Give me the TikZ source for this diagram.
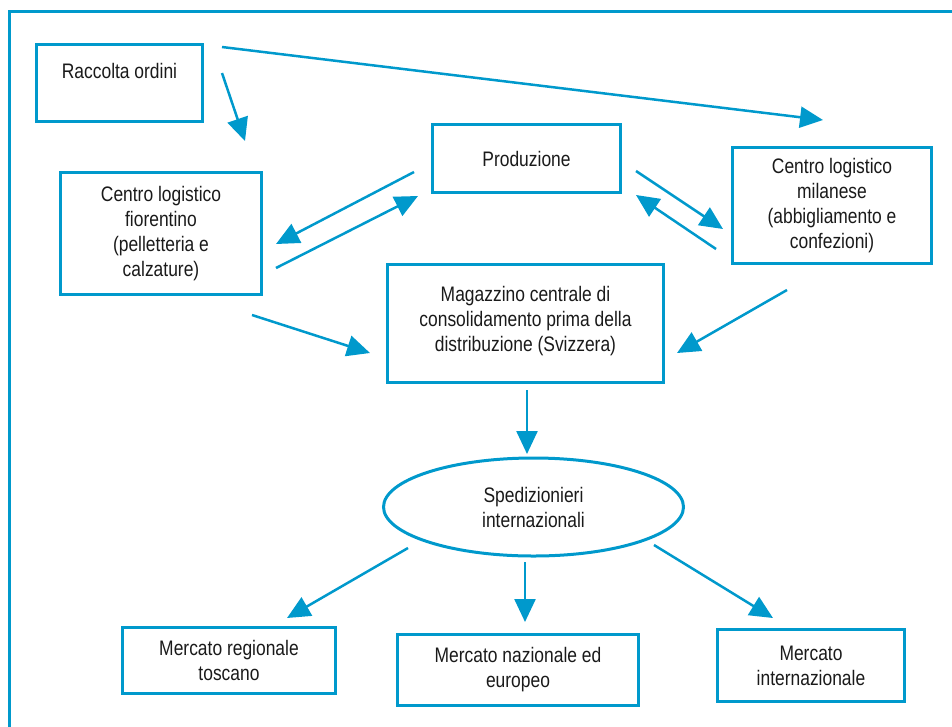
\documentclass[tikz,border=0pt]{standalone}
\usepackage{fontspec}
\setmainfont{Liberation Sans}[FakeStretch=0.83]
\usetikzlibrary{arrows.meta, shapes.geometric}
\definecolor{flowblue}{HTML}{0099CC}
\definecolor{textgray}{HTML}{1A1A1A}

\begin{document}
\begin{tikzpicture}[x=1pt, y=-1pt,
  box/.style={rectangle, draw=flowblue, line width=3pt, align=center,
              font=\fontsize{21}{25}\selectfont, text=textgray, inner sep=0pt},
  arrow/.style={-{Triangle[length=23pt, width=21pt]}, line width=2.5pt, color=flowblue},
]
\useasboundingbox (0,0) rectangle (952,726);
% Frame
\draw[flowblue, line width=3pt] (9,730) -- (9,11) -- (956,11);

% Boxes
\node[box, minimum width=166, minimum height=77] (raccolta) at (119.5,83) {Raccolta ordini\\ \mbox{}};
\node[box, minimum width=201, minimum height=122] (fiorentino) at (161,233.5)
  {Centro logistico\\fiorentino\\(pelletteria e\\calzature)};
\node[box, minimum width=188, minimum height=68] (produzione) at (526.5,158.5) {Produzione};
\node[box, minimum width=199, minimum height=116] (milanese) at (832,205.5)
  {Centro logistico\\milanese\\(abbigliamento e\\confezioni)};
\node[box, minimum width=276, minimum height=118] (magazzino) at (525.5,323.5)
  {Magazzino centrale di\\consolidamento prima della\\distribuzione (Svizzera)\\[-15pt]\mbox{}};
\node[box, ellipse, minimum width=300, minimum height=98] (spedizionieri) at (533.5,507)
  {Spedizionieri\\internazionali};
\node[box, minimum width=213, minimum height=66] (regionale) at (229,660.5)
  {Mercato regionale\\toscano};
\node[box, minimum width=241, minimum height=71] (nazionale) at (518,670)
  {Mercato nazionale ed\\europeo};
\node[box, minimum width=187, minimum height=72] (internazionale) at (811,665.5)
  {Mercato\\internazionale};

% Arrow ends
\coordinate (rac-a) at (222,73);   \coordinate (fio-a) at (245,141);
\coordinate (rac-b) at (222,47);   \coordinate (mil-a) at (823,120);
\coordinate (pro-a) at (414,172);  \coordinate (fio-b) at (276,244);
\coordinate (fio-c) at (276,268);  \coordinate (pro-b) at (418,196);
\coordinate (pro-c) at (636,171);  \coordinate (mil-b) at (723,229);
\coordinate (mil-c) at (716,249);  \coordinate (pro-d) at (636,195);
\coordinate (fio-d) at (252,315);  \coordinate (mag-a) at (370,353);
\coordinate (mil-d) at (787,290);  \coordinate (mag-b) at (677,353);
\coordinate (mag-c) at (527,390);  \coordinate (spe-a) at (527,454);
\coordinate (spe-b) at (408,548);  \coordinate (reg-a) at (287,618);
\coordinate (spe-c) at (525,562);  \coordinate (naz-a) at (525,622);
\coordinate (spe-d) at (654,545);  \coordinate (int-a) at (773,618);

% Arrows
\draw[arrow] (rac-a) -- (fio-a);
\draw[arrow] (rac-b) -- (mil-a);
\draw[arrow] (pro-a) -- (fio-b);
\draw[arrow] (fio-c) -- (pro-b);
\draw[arrow] (pro-c) -- (mil-b);
\draw[arrow] (mil-c) -- (pro-d);
\draw[arrow] (fio-d) -- (mag-a);
\draw[arrow] (mil-d) -- (mag-b);
\draw[arrow] (mag-c) -- (spe-a);
\draw[arrow] (spe-b) -- (reg-a);
\draw[arrow] (spe-c) -- (naz-a);
\draw[arrow] (spe-d) -- (int-a);
\end{tikzpicture}
\end{document}
